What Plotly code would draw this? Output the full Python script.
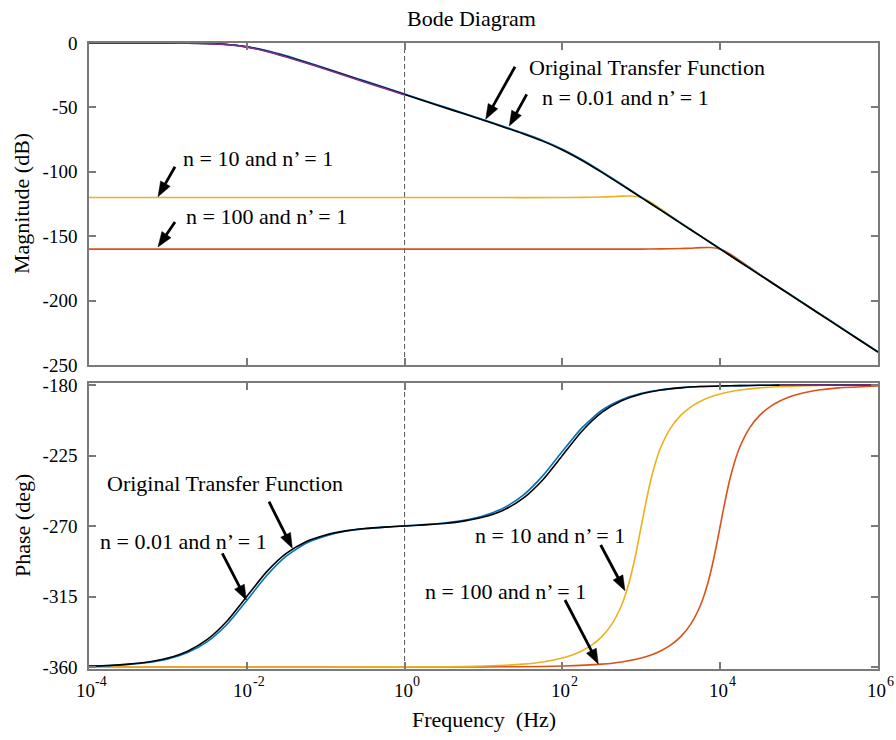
import math
import plotly.graph_objects as go

# ---------------- data ----------------
# frequency exponents (log10 Hz)
exp_main = [-4.0, -3.75, -3.5, -3.25, -3.0, -2.75, -2.5, -2.25, -2.0, -1.75, -1.5, -1.25,
            -1.0, -0.75, -0.5, -0.25, 0.0, 0.25, 0.5, 0.75, 1.0, 1.25, 1.5, 1.75, 2.0,
            2.25, 2.5, 2.75, 3.0, 3.25, 3.5, 3.75, 4.0, 4.25, 4.5, 4.75, 5.0, 5.25, 5.5,
            5.75, 6.0]

mag_original = [0.0, 0.0, 0.0, -0.01, -0.04, -0.14, -0.41, -1.19, -3.01, -6.19, -10.41, -15.13,
                -20.04, -25.01, -30.0, -35.0, -40.0, -45.0, -50.0, -55.0, -60.04, -65.14, -70.41,
                -76.19, -83.01, -91.19, -100.41, -110.13, -120.04, -130.0, -140.0, -150.0, -160.0,
                -170.0, -180.0, -190.0, -200.0, -210.0, -220.0, -230.0, -240.0]
mag_n001 = [0.0, 0.0, 0.0, -0.01, -0.04, -0.13, -0.38, -1.12, -2.85, -5.9, -10.0, -14.7,
            -19.6, -24.6, -29.6, -34.6, -39.6, -44.6, -49.6, -54.6, -59.6, -64.7, -69.9,
            -75.6, -82.4, -90.6, -99.9, -109.7, -119.7, -129.7, -139.7, -149.7, -159.7,
            -169.7, -179.7, -189.7, -199.7, -209.7, -219.7, -229.7, -239.7]
phase_original = [-359.4, -359.0, -358.2, -356.8, -354.3, -349.9, -342.4, -330.6, -315.0, -299.3,
                  -287.5, -280.0, -275.7, -273.1, -271.6, -270.7, -270.0, -269.3, -268.4, -266.9,
                  -264.3, -259.9, -252.4, -240.6, -225.0, -209.4, -197.5, -190.1, -185.7, -183.2,
                  -181.8, -181.0, -180.6, -180.4, -180.2, -180.1, -180.1, -180.0, -180.0, -180.0,
                  -180.0]
phase_n001 = [-359.5, -359.1, -358.4, -357.1, -354.8, -350.8, -343.8, -332.7, -317.5, -301.8,
              -289.3, -281.0, -276.3, -273.4, -271.7, -270.7, -269.9, -269.1, -268.1, -266.4,
              -263.5, -258.6, -250.5, -238.0, -222.3, -207.2, -196.1, -189.4, -185.3, -183.0,
              -181.7, -181.0, -180.6, -180.4, -180.2, -180.1, -180.1, -180.0, -180.0, -180.0,
              -180.0]

exp_purple_mag = [-4.0, -3.75, -3.5, -3.25, -3.0, -2.75, -2.5, -2.25, -2.0, -1.75, -1.5, -1.25,
                  -1.0, -0.75, -0.5, -0.25, 0.0]
mag_purple = [0.0, 0.0, 0.0, -0.01, -0.05, -0.16, -0.45, -1.3, -3.2, -6.5, -10.8, -15.5,
              -20.4, -25.4, -30.4, -35.4, -40.3]
exp_purple_phase = [4.75, 5.0, 5.5, 6.0]
phase_purple = [-180.1, -180.1, -180.0, -180.0]

exp_n10_mag = [-4.0, -3.0, -2.0, -1.0, 0.0, 1.0, 2.0, 2.25, 2.5, 2.625, 2.75, 2.875, 3.0,
               3.125, 3.25, 3.5, 3.75, 4.0, 4.5, 5.0, 5.5, 6.0]
mag_n10 = [-120.0, -120.0, -120.0, -120.0, -120.0, -120.0, -120.0, -119.86, -119.6, -119.3,
           -118.9, -118.8, -120.0, -123.8, -128.9, -139.6, -149.9, -160.0, -180.0, -200.0,
           -220.0, -240.0]
exp_n100_mag = [-4.0, -3.0, -2.0, -1.0, 0.0, 1.0, 2.0, 3.0, 3.25, 3.5, 3.625, 3.75, 3.875, 4.0,
                4.125, 4.25, 4.5, 4.75, 5.0, 5.5, 6.0]
mag_n100 = [-160.0, -160.0, -160.0, -160.0, -160.0, -160.0, -160.0, -160.0, -159.86, -159.6,
            -159.3, -158.9, -158.8, -160.0, -163.8, -168.9, -179.6, -189.9, -200.0, -220.0,
            -240.0]

exp_n10_phase = [-4.0, -2.0, 0.0, 0.5, 1.0, 1.5, 1.75, 2.0, 2.125, 2.25, 2.375, 2.5, 2.625,
                 2.75, 2.8125, 2.875, 2.9375, 3.0, 3.0625, 3.125, 3.1875, 3.25, 3.375, 3.5,
                 3.625, 3.75, 3.875, 4.0, 4.125, 4.25, 4.5, 5.0, 5.5, 6.0]
phase_n10 = [-360.0, -360.0, -359.9, -359.8, -359.4, -358.2, -356.8, -354.2, -352.3, -349.6,
             -345.9, -340.6, -332.8, -320.6, -311.7, -300.3, -286.1, -270.0, -253.9, -239.7,
             -228.3, -219.4, -207.2, -199.4, -194.1, -190.4, -187.7, -185.8, -184.3, -183.2,
             -181.8, -180.6, -180.2, -180.1]
exp_n100_phase = [-4.0, -1.0, 1.0, 1.5, 2.0, 2.5, 2.75, 3.0, 3.125, 3.25, 3.375, 3.5, 3.625,
                  3.75, 3.8125, 3.875, 3.9375, 4.0, 4.0625, 4.125, 4.1875, 4.25, 4.375, 4.5,
                  4.625, 4.75, 4.875, 5.0, 5.125, 5.25, 5.5, 6.0]
phase_n100 = [-360.0, -360.0, -359.9, -359.8, -359.4, -358.2, -356.8, -354.2, -352.3, -349.6,
              -345.9, -340.6, -332.8, -320.6, -311.7, -300.3, -286.1, -270.0, -253.9, -239.7,
              -228.3, -219.4, -207.2, -199.4, -194.1, -190.4, -187.7, -185.8, -184.3, -183.2,
              -181.8, -180.6]

mag_ticks = [-250, -200, -150, -100, -50, 0]
phase_ticks = [-360, -315, -270, -225, -180]
freq_tick_exps = [-4, -2, 0, 2, 4, 6]

# ---------------- styling ----------------
FONT = "Liberation Serif, Times New Roman, serif"
AXC = "#7a7a7a"
C_BLACK = "#000000"
C_BLUE = "#0072BD"
C_YEL = "#EDB120"
C_ORG = "#D95319"
C_PUR = "#7E2F8E"

W, H = 896, 740
L_, R_, T_, B_ = 89, 18, 43, 71
PW, PH = W - L_ - R_, H - T_ - B_


def px(x):
    return (x - L_) / PW


def py(y):
    return (H - B_ - y) / PH


def fr(exps):
    return [10 ** e for e in exps]


fig = go.Figure()


def add(xe, yv, color, ax, width=1.6):
    xa, ya = ("x", "y") if ax == 1 else ("x2", "y2")
    fig.add_trace(go.Scatter(x=fr(xe), y=yv, mode="lines", xaxis=xa, yaxis=ya,
                             line=dict(color=color, width=width, shape="spline", smoothing=0.6),
                             showlegend=False, hoverinfo="skip"))


# magnitude
add(exp_n100_mag, mag_n100, C_ORG, 1)
add(exp_n10_mag, mag_n10, C_YEL, 1)
add(exp_main, mag_n001, C_BLUE, 1)
add(exp_main, mag_original, C_BLACK, 1)
add(exp_purple_mag, mag_purple, C_PUR, 1)
# phase
add(exp_n100_phase, phase_n100, C_ORG, 2)
add(exp_n10_phase, phase_n10, C_YEL, 2)
add(exp_main, phase_n001, C_BLUE, 2)
add(exp_main, phase_original, C_BLACK, 2)
add(exp_purple_phase, phase_purple, C_PUR, 2)

tickfont = dict(family=FONT, size=19, color="black")
common_x = dict(type="log", range=[-4, 6], showgrid=False, zeroline=False, showline=True,
                linecolor=AXC, linewidth=1.5, mirror="ticks", ticks="inside", ticklen=7,
                tickcolor=AXC, tickwidth=1.5, tickfont=tickfont, automargin=False,
                showticklabels=False)
common_y = dict(showgrid=False, zeroline=False, showline=True, linecolor=AXC, linewidth=1.5,
                mirror="ticks", ticks="inside", ticklen=7, tickcolor=AXC, tickwidth=1.5,
                tickfont=tickfont, ticklabelstandoff=6, automargin=False)

top_bottom = py(365)
bot_top = py(383)

fig.update_layout(
    width=W, height=H, margin=dict(l=L_, r=R_, t=T_, b=B_, autoexpand=False),
    paper_bgcolor="white", plot_bgcolor="white",
    xaxis=dict(common_x, domain=[0, 1], anchor="y", tickvals=fr(freq_tick_exps[1:-1])),
    yaxis=dict(common_y, domain=[top_bottom, 1], anchor="x", range=[-250, 0],
               tickvals=mag_ticks, ticktext=[str(v) for v in mag_ticks]),
    xaxis2=dict(common_x, domain=[0, 1], anchor="y2", tickvals=fr(freq_tick_exps)),
    yaxis2=dict(common_y, domain=[0, bot_top], anchor="x2", range=[-361.28, -178.72],
                tickvals=phase_ticks, ticktext=[str(v) for v in phase_ticks]),
    font=dict(family=FONT, color="black"),
)

# frequency tick labels "10" with raised exponent, placed on the x2 axis scale
for e in freq_tick_exps:
    exp_txt = str(e)
    exp_w = 7.0 * sum(0.667 if ch == "-" else 1.0 for ch in exp_txt)
    base_w = 19.0
    total = base_w + exp_w
    fig.add_annotation(text="10", xref="x2", yref="paper", x=e, y=py(690),
                       xanchor="left", yanchor="middle", showarrow=False,
                       xshift=-total / 2, font=dict(family=FONT, size=19, color="black"))
    fig.add_annotation(text=exp_txt, xref="x2", yref="paper", x=e, y=py(681),
                       xanchor="left", yanchor="middle", showarrow=False,
                       xshift=-total / 2 + base_w + 0.5,
                       font=dict(family=FONT, size=14, color="black"))

# dashed reference line at 10^0
for xa, ya in (("x", "y domain"), ("x2", "y2 domain")):
    fig.add_shape(type="line", xref=xa, yref=ya, x0=1, x1=1, y0=0, y1=1,
                  line=dict(color="#555555", width=1, dash="5px,3px"), layer="below")


def label(text, x, y, size=22, angle=0):
    fig.add_annotation(text=text, xref="paper", yref="paper", x=px(x), y=py(y),
                       xanchor="center", yanchor="middle", showarrow=False,
                       font=dict(family=FONT, size=size, color="black"), textangle=angle)


def arrow(tip, tail, head_len=15.0, head_w=11.0):
    dx, dy = tip[0] - tail[0], tip[1] - tail[1]
    d = math.hypot(dx, dy)
    ux, uy = dx / d, dy / d
    bx, by = tip[0] - head_len * ux, tip[1] - head_len * uy
    vx, vy = -uy, ux
    fig.add_shape(type="line", xref="paper", yref="paper",
                  x0=px(tail[0]), y0=py(tail[1]), x1=px(bx + 2 * ux), y1=py(by + 2 * uy),
                  line=dict(color="black", width=2.8))
    c1 = (bx + vx * head_w / 2, by + vy * head_w / 2)
    c2 = (bx - vx * head_w / 2, by - vy * head_w / 2)
    path = "M %.5f %.5f L %.5f %.5f L %.5f %.5f Z" % (
        px(tip[0]), py(tip[1]), px(c1[0]), py(c1[1]), px(c2[0]), py(c2[1]))
    fig.add_shape(type="path", xref="paper", yref="paper", path=path,
                  fillcolor="black", line=dict(color="black", width=0.5))


label("Bode Diagram", 471, 19, size=22)
label("Magnitude (dB)", 22, 204, angle=-90)
label("Phase (deg)", 22, 526, angle=-90)
label("Frequency\u00a0 (Hz)", 484, 719)

label("Original Transfer Function", 646.7, 67)
label("n = 0.01 and n\u2019 = 1", 625, 98)
label("n = 10 and n\u2019 = 1", 258, 158)
label("n = 100 and n\u2019 = 1", 266, 216)
label("Original Transfer Function", 224.5, 483)
label("n = 0.01 and n\u2019 = 1", 183, 541.7)
label("n = 10 and n\u2019 = 1", 550, 535)
label("n = 100 and n\u2019 = 1", 505.8, 591.7)

arrow((485.7, 119.3), (515, 66.7))
arrow((509.3, 126), (526.7, 94.3))
arrow((158, 196.7), (175, 166.7))
arrow((158, 247), (175, 222))
arrow((292.3, 548.3), (269, 501.7))
arrow((246.3, 600), (222.3, 553.3))
arrow((625, 590.7), (600.7, 545))
arrow((598.3, 664), (565, 600))

fig.write_html("out.html")
